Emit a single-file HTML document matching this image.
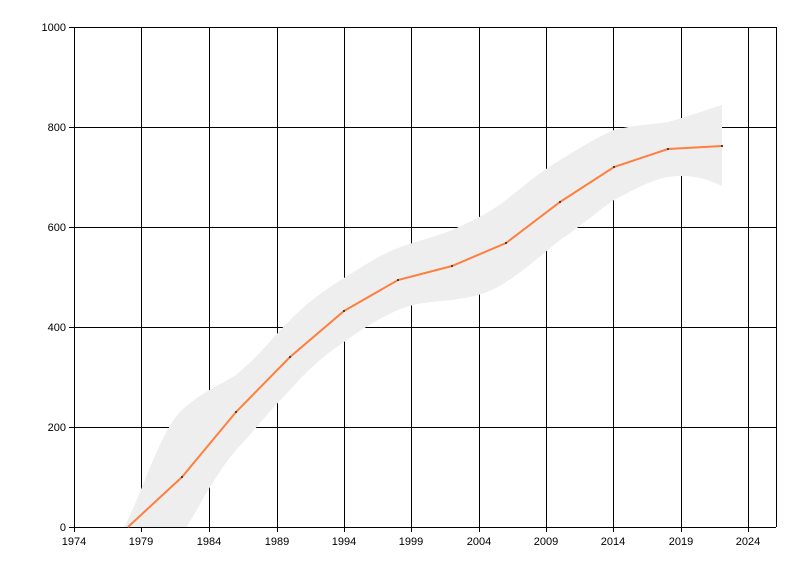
<!DOCTYPE html>
<html><head><style>body{margin:0;background:#fff}svg{display:block}</style></head><body>
<svg width="800" height="576" xmlns="http://www.w3.org/2000/svg" font-family="Liberation Sans, sans-serif" font-size="11">
<rect width="800" height="576" fill="#fff"/>
<defs><clipPath id="c"><rect x="74" y="27" width="702" height="500"/></clipPath></defs>
<g stroke="#000" stroke-width="1">
<line x1="74.5" y1="27" x2="74.5" y2="532"/>
<g>
<line x1="141.5" y1="27" x2="141.5" y2="532"/><line x1="209.5" y1="27" x2="209.5" y2="532"/><line x1="277.5" y1="27" x2="277.5" y2="532"/><line x1="344.5" y1="27" x2="344.5" y2="532"/><line x1="411.5" y1="27" x2="411.5" y2="532"/><line x1="479.5" y1="27" x2="479.5" y2="532"/><line x1="546.5" y1="27" x2="546.5" y2="532"/><line x1="613.5" y1="27" x2="613.5" y2="532"/><line x1="681.5" y1="27" x2="681.5" y2="532"/><line x1="748.5" y1="27" x2="748.5" y2="532"/>
</g>
<line x1="69" y1="27.5" x2="776" y2="27.5"/><line x1="69" y1="127.5" x2="776" y2="127.5"/><line x1="69" y1="227.5" x2="776" y2="227.5"/><line x1="69" y1="327.5" x2="776" y2="327.5"/><line x1="69" y1="427.5" x2="776" y2="427.5"/>
<line x1="776.5" y1="27" x2="776.5" y2="527"/>
</g>
<path clip-path="url(#c)" fill="#eeeeee" d="M124,527 C140,500 160,430 182,410 C200,393 220,385 236,375 C260,355 275,335 290,320 C310,300 325,290 344,278 C365,265 380,255 398,248 C420,240 435,237 452,230 C475,220 490,212 506,200 C525,185 540,172 560,160 C580,148 595,138 614,130 C640,124 650,125 668,122 C690,116 705,110 722,105 L722,186 C705,178 690,174 668,177 C650,180 630,192 614,200 C595,213 580,227 560,240 C540,256 525,270 506,282 C485,296 470,297 452,300 C430,302 415,303 398,310 C380,318 360,330 344,342 C320,358 305,373 290,390 C270,410 255,430 236,450 C215,475 200,505 185,530 L124,530 Z"/>
<line x1="69" y1="527.5" x2="776" y2="527.5" stroke="#000"/>
<polyline fill="none" stroke="#ff7f3f" stroke-width="2" points="128,527 182,477 236,412 290,357 344,311 398,280 452,266 506,243 560,202 614,167 668,149 722,146"/>
<g fill="#444"><rect x="181" y="476" width="2" height="2"/><rect x="235" y="411" width="2" height="2"/><rect x="289" y="356" width="2" height="2"/><rect x="343" y="310" width="2" height="2"/><rect x="397" y="279" width="2" height="2"/><rect x="451" y="265" width="2" height="2"/><rect x="505" y="242" width="2" height="2"/><rect x="559" y="201" width="2" height="2"/><rect x="613" y="166" width="2" height="2"/><rect x="667" y="148" width="2" height="2"/><rect x="721" y="145" width="2" height="2"/></g>
<g text-anchor="end" fill="#000"><text x="66" y="31">1000</text><text x="66" y="131">800</text><text x="66" y="231">600</text><text x="66" y="331">400</text><text x="66" y="431">200</text><text x="66" y="531">0</text></g>
<g text-anchor="middle" fill="#000"><text x="74" y="545">1974</text><text x="141" y="545">1979</text><text x="209" y="545">1984</text><text x="277" y="545">1989</text><text x="344" y="545">1994</text><text x="411" y="545">1999</text><text x="479" y="545">2004</text><text x="546" y="545">2009</text><text x="613" y="545">2014</text><text x="681" y="545">2019</text><text x="748" y="545">2024</text></g>
</svg>
</body></html>
